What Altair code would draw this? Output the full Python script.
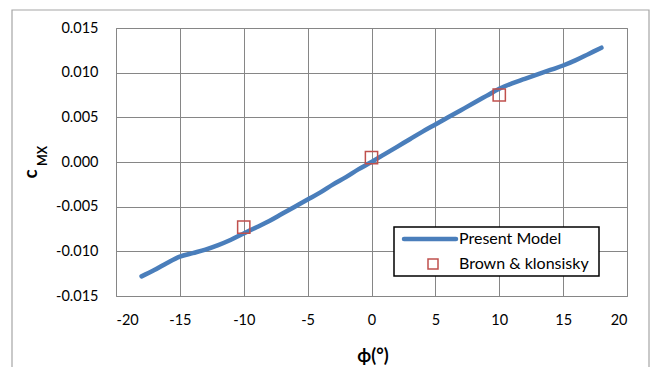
import altair as alt
import pandas as pd

phi = [-18, -17, -16, -15, -14, -13, -12, -11, -10, -9, -8, -7, -6, -5, -4, -3, -2, -1,
       0, 1, 2, 3, 4, 5, 6, 7, 8, 9, 10, 11, 12, 13, 14, 15, 16, 17, 18]
cmx = [-0.0128, -0.0121, -0.0113, -0.0106, -0.0102, -0.0098, -0.0093, -0.0087, -0.0080,
       -0.0073, -0.0066, -0.0058, -0.0050, -0.0042, -0.0034, -0.0025, -0.0017, -0.0008,
       0.0000, 0.00085, 0.0017, 0.00255, 0.0034, 0.0042, 0.0050, 0.0058, 0.0066, 0.0074,
       0.0082, 0.0088, 0.0093, 0.0098, 0.0103, 0.0108, 0.0114, 0.0121, 0.0128]
exp_phi = [-10, 0, 10]
exp_cmx = [-0.0073, 0.0005, 0.0075]
x_ticks = [-20, -15, -10, -5, 0, 5, 10, 15, 20]
y_ticks = [-0.015, -0.010, -0.005, 0.0, 0.005, 0.010, 0.015]
legend_labels = ["Present Model", "Brown & klonsisky"]

FONT = "Lato"
GRID = "#868686"
BLUE = "#4A7EBB"
RED = "#C0504D"

df = pd.DataFrame({"phi": phi, "cmx": cmx})
dexp = pd.DataFrame({"phi": exp_phi, "cmx": exp_cmx})

xs = alt.Scale(domain=[-20, 20], nice=False, zero=False)
ys = alt.Scale(domain=[-0.015, 0.015], nice=False, zero=False)

xaxis = alt.Axis(values=x_ticks, title=None, grid=True, gridColor=GRID, gridWidth=1,
                 ticks=False, domain=False, labelFont=FONT, labelFontSize=14.5,
                 labelColor="black", labelPadding=17,
                 labelExpr="replace(format(datum.value, 'd'), '\u2212', '-')")
yaxis = alt.Axis(values=y_ticks, title=None, grid=True, gridColor=GRID, gridWidth=1,
                 ticks=False, domain=False, labelFont=FONT, labelFontSize=14.5,
                 labelColor="black", labelPadding=18,
                 labelExpr="replace(format(datum.value, '.3f'), '\u2212', '-')")

one = pd.DataFrame({"a": [0]})

frame = alt.Chart(one).mark_rect(
    fill=None, stroke="#A6A6A6", strokeWidth=1.2, clip=False
).encode(x=alt.value(-104), x2=alt.value(533), y=alt.value(-18), y2=alt.value(400))

line = alt.Chart(df).mark_line(color=BLUE, strokeWidth=4.5, interpolate="catmull-rom",
                               strokeCap="round").encode(
    x=alt.X("phi:Q", scale=xs, axis=xaxis),
    y=alt.Y("cmx:Q", scale=ys, axis=yaxis),
)

pts = alt.Chart(dexp).mark_point(shape="square", filled=False, color=RED, size=150,
                                 strokeWidth=1.5, opacity=1).encode(
    x=alt.X("phi:Q", scale=xs),
    y=alt.Y("cmx:Q", scale=ys),
)

# legend box (pixel coordinates relative to plot area origin at 116,28)
lbox = alt.Chart(one).mark_rect(fill="white", stroke="black", strokeWidth=1.5).encode(
    x=alt.value(278), x2=alt.value(483), y=alt.value(199), y2=alt.value(248))
lline = alt.Chart(one).mark_rule(color=BLUE, strokeWidth=4.5, strokeCap="round").encode(
    x=alt.value(288), x2=alt.value(340), y=alt.value(211))
lsq = alt.Chart(one).mark_point(shape="square", filled=False, color=RED, size=100,
                                strokeWidth=1.5, opacity=1).encode(
    x=alt.value(317), y=alt.value(236))
lt1 = alt.Chart(one).mark_text(text=legend_labels[0], font=FONT, fontSize=16, align="left",
                               baseline="middle", color="black").encode(
    x=alt.value(343), y=alt.value(211))
lt2 = alt.Chart(one).mark_text(text=legend_labels[1], font=FONT, fontSize=16, align="left",
                               baseline="middle", color="black").encode(
    x=alt.value(343), y=alt.value(236))

xtitle = alt.Chart(one).mark_text(text="\u03d5(\u00b0)", font=FONT, fontSize=18,
                                  fontWeight="bold", color="black", baseline="middle").encode(
    x=alt.value(257), y=alt.value(329))
ytitle_c = alt.Chart(one).mark_text(text="c", font=FONT, fontSize=19, fontWeight="bold",
                                    color="black", angle=270, align="center",
                                    baseline="alphabetic").encode(
    x=alt.value(-79), y=alt.value(146))
ytitle_mx = alt.Chart(one).mark_text(text="MX", font=FONT, fontSize=12.5, fontWeight="bold",
                                     color="black", angle=270, align="center",
                                     baseline="alphabetic").encode(
    x=alt.value(-69), y=alt.value(128))

chart = alt.layer(frame, line, pts, lbox, lline, lsq, lt1, lt2, xtitle, ytitle_c, ytitle_mx).properties(
    width=511, height=268,
    padding={"left": 116, "top": 28, "right": 25, "bottom": 71},
    autosize=alt.AutoSizeParams(type="none"),
    background="white",
).configure_view(stroke=GRID, strokeWidth=1)

chart.save("out.html", embed_options={"renderer": "svg", "actions": False})
